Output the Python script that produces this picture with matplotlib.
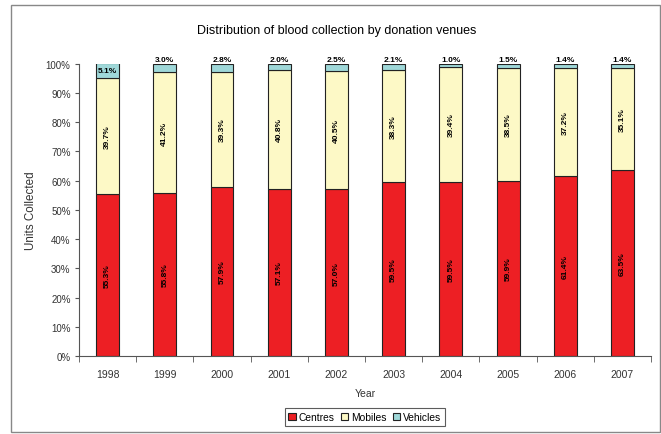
import numpy as np
import matplotlib.pyplot as plt
from matplotlib.patches import Rectangle
from matplotlib.ticker import PercentFormatter

plt.rcParams['font.family'] = ['Liberation Sans', 'DejaVu Sans']

years = ['1998', '1999', '2000', '2001', '2002', '2003', '2004', '2005', '2006', '2007']
centres = [55.3, 55.8, 57.9, 57.1, 57.0, 59.5, 59.5, 59.9, 61.4, 63.5]
mobiles = [39.7, 41.2, 39.3, 40.8, 40.5, 38.3, 39.4, 38.5, 37.2, 35.1]
vehicles = [5.1, 3.0, 2.8, 2.0, 2.5, 2.1, 1.0, 1.5, 1.4, 1.4]

c_red = '#ED1F24'
c_yel = '#FDF9C6'
c_cyan = '#9FD8D9'

fig = plt.figure(figsize=(6.61, 4.35), dpi=100)
ax = fig.add_axes([0.1195, 0.1793, 0.8655, 0.6724])

x = np.arange(len(years))
w = 0.4
cen = np.array(centres)
mob = np.array(mobiles)
veh = np.array(vehicles)

ax.bar(x, cen, w, color=c_red, edgecolor='#222222', linewidth=0.8, label='Centres')
ax.bar(x, mob, w, bottom=cen, color=c_yel, edgecolor='#222222', linewidth=0.8, label='Mobiles')
ax.bar(x, veh, w, bottom=cen + mob, color=c_cyan, edgecolor='#222222', linewidth=0.8, label='Vehicles')

# labels on the bars
for i in range(len(years)):
    ax.text(x[i], cen[i] / 2, f'{centres[i]:.1f}%', rotation=90, ha='center', va='center',
            fontsize=6, fontweight='bold')
    ax.text(x[i], cen[i] + mob[i] / 2, f'{mobiles[i]:.1f}%', rotation=90, ha='center', va='center',
            fontsize=6, fontweight='bold')
    if veh[i] > 4:
        ax.text(x[i], cen[i] + mob[i] + veh[i] / 2, f'{vehicles[i]:.1f}%', ha='center', va='center',
                fontsize=6, fontweight='bold')
    else:
        ax.text(x[i], 100.3, f'{vehicles[i]:.1f}%', ha='center', va='bottom',
                fontsize=6, fontweight='bold')

ax.set_xlim(-0.5, len(years) - 0.5)
ax.set_ylim(0, 100)
ax.set_yticks(np.arange(0, 101, 10))
ax.yaxis.set_major_formatter(PercentFormatter(decimals=0))
ax.set_xticks(x)
ax.set_xticklabels(years)
ax.set_xticks(np.arange(-0.5, len(years), 1), minor=True)
ax.tick_params(axis='x', which='major', length=0, pad=9, labelsize=7.5, colors='#333333')
ax.tick_params(axis='x', which='minor', length=4, direction='out', color='#555555')
ax.tick_params(axis='y', length=3, direction='out', labelsize=7, colors='#333333', color='#555555', pad=3)

for s in ['top', 'right']:
    ax.spines[s].set_visible(False)
for s in ['left', 'bottom']:
    ax.spines[s].set_color('#555555')
    ax.spines[s].set_linewidth(0.8)

ax.set_xlabel('Year', fontsize=7.5, color='#333333', labelpad=7)
ax.set_ylabel('Units Collected', fontsize=8.4, color='#333333', labelpad=6)

fig.text(0.51, 0.929, 'Distribution of blood collection by donation venues', ha='center', va='center',
         fontsize=9)

leg = fig.legend(loc='center', bbox_to_anchor=(0.552, 0.039), ncol=3, fontsize=7.4,
                 frameon=True, fancybox=False, edgecolor='#333333', handlelength=0.7,
                 handleheight=0.7, handletextpad=0.3, columnspacing=0.6, borderpad=0.35)
leg.get_frame().set_linewidth(0.8)

# chart border
fig.patches.append(Rectangle((11 / 661, 2 / 435), 649 / 661, 427 / 435, transform=fig.transFigure,
                             fill=False, edgecolor='#888888', linewidth=1.0))

plt.savefig('out.png', dpi=100)
